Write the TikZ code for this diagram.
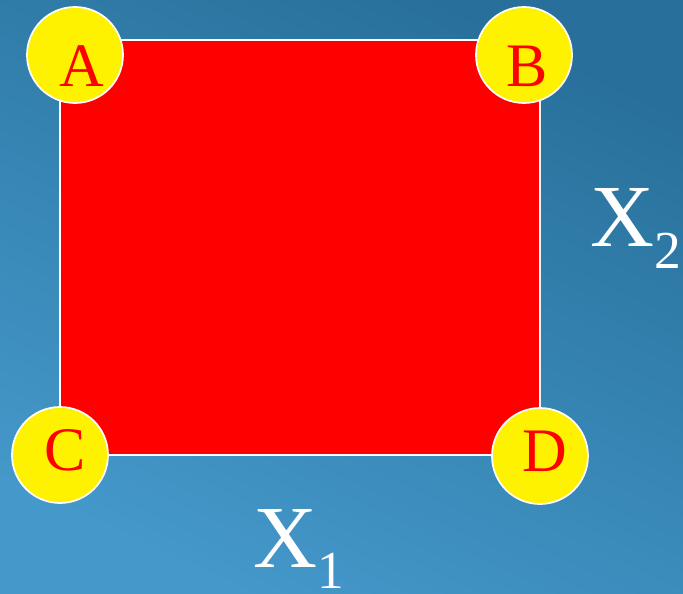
\documentclass[tikz,border=0pt]{standalone}
\usepackage{fontspec}
\setmainfont{Liberation Serif}
\definecolor{bgtop}{RGB}{40,112,155}
\definecolor{bgbot}{RGB}{68,152,202}
\tikzset{
  corner/.style={circle, fill=yellow, draw=white, line width=1.2pt, minimum size=2.4cm, inner sep=0pt},
  letter/.style={text=red, inner sep=0pt, font=\fontsize{44}{44}\selectfont},
  axis label/.style={text=white, inner sep=0pt, anchor=base west, font=\fontsize{63}{63}\selectfont}
}
\begin{document}
\begin{tikzpicture}[x=0.025cm,y=-0.025cm]
        % background
        \useasboundingbox (0,0) rectangle (683,593);
        \shade[top color=bgtop, bottom color=bgbot, shading angle=-25] (0,0) rectangle (683,593);
        % square
        \fill[red, draw=white, line width=1.2pt] (60,40) rectangle (540,455);
        % corners
        \node[corner, label={[letter, xshift=5pt, yshift=-8pt]center:A}] (A) at (75,55) {};
        \node[corner, label={[letter, xshift=2.5pt, yshift=-8pt]center:B}] (B) at (524,55) {};
        \node[corner, label={[letter, xshift=3.5pt, yshift=3pt]center:C}] (C) at (60,455) {};
        \node[corner, label={[letter, xshift=3.5pt, yshift=3.5pt]center:D}] (D) at (540,456) {};
        % factors
        \node[axis label] (X2) at (590,246) {X\raisebox{-16pt}{\fontsize{38}{38}\selectfont 2}};
        \node[axis label] (X1) at (253,567) {X\raisebox{-15pt}{\fontsize{38}{38}\selectfont 1}};
\end{tikzpicture}
\end{document}
